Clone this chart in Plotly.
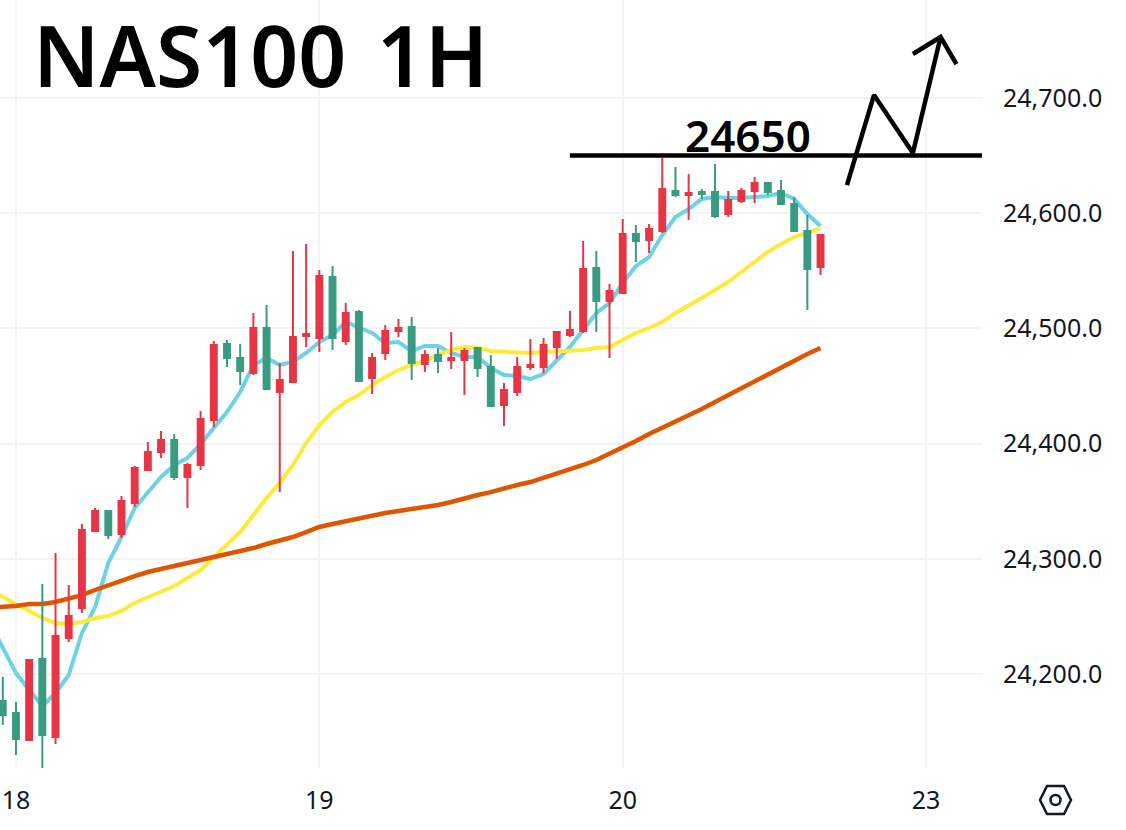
# NAS100 1H, velas con tres medias moviles
import plotly.graph_objects as go

# Datos de las velas (indice de vela en el eje x)
indice = list(range(63))
apertura = [24176.5, 24166.1, 24142.7, 24213.0, 24145.3, 24231.2, 24257.3, 24324.1, 24341.5, 24321.5,
            24348.4, 24377.0, 24392.7, 24403.1, 24371.0, 24381.4, 24420.4, 24486.4, 24474.3, 24461.2,
            24500.3, 24444.7, 24453.4, 24493.4, 24491.6, 24544.6, 24489.0, 24514.2, 24456.9, 24478.6,
            24497.7, 24501.2, 24469.0, 24476.9, 24472.5, 24472.5, 24482.9, 24466.4, 24433.5, 24444.7,
            24466.4, 24466.4, 24483.8, 24494.2, 24497.7, 24552.4, 24523.7, 24530.7, 24581.9, 24576.7,
            24584.5, 24619.2, 24615.7, 24618.3, 24618.3, 24599.2, 24610.5, 24619.2, 24626.2, 24619.2,
            24607.9, 24584.5, 24553.2]
maximo = [24197.4, 24175.7, 24213.0, 24278.1, 24305.0, 24277.2, 24330.2, 24344.1, 24341.5, 24354.5,
          24380.5, 24401.3, 24410.9, 24408.3, 24383.1, 24428.3, 24489.0, 24489.9, 24486.4, 24513.3,
          24520.3, 24469.9, 24567.1, 24573.2, 24550.6, 24554.1, 24522.0, 24515.9, 24478.6, 24502.9,
          24508.1, 24509.8, 24481.2, 24482.9, 24496.8, 24482.9, 24483.8, 24476.9, 24452.6, 24475.1,
          24490.7, 24491.6, 24496.8, 24515.1, 24575.8, 24567.1, 24538.5, 24594.9, 24589.7, 24590.6,
          24647.9, 24640.0, 24634.0, 24620.9, 24642.6, 24619.2, 24621.8, 24631.4, 24626.2, 24628.8,
          24614.0, 24598.4, 24581.9]
minimo = [24155.7, 24129.7, 24142.7, 24118.4, 24139.2, 24227.7, 24252.9, 24324.1, 24317.1, 24318.0,
          24344.9, 24377.0, 24387.5, 24368.4, 24344.1, 24377.0, 24414.4, 24466.4, 24450.8, 24459.5,
          24447.3, 24357.9, 24452.6, 24483.8, 24479.5, 24481.2, 24485.5, 24454.3, 24443.0, 24472.5,
          24492.5, 24455.2, 24462.1, 24461.2, 24464.7, 24442.1, 24457.8, 24432.6, 24415.2, 24441.3,
          24463.8, 24461.2, 24473.4, 24492.5, 24496.0, 24496.8, 24474.3, 24530.7, 24557.6, 24565.4,
          24582.8, 24614.0, 24594.0, 24612.3, 24595.8, 24596.6, 24608.8, 24608.8, 24615.7, 24607.9,
          24583.6, 24515.9, 24546.3]
cierre = [24164.4, 24143.5, 24212.1, 24147.0, 24233.0, 24250.3, 24325.0, 24341.5, 24320.6, 24350.1,
          24378.8, 24392.7, 24403.1, 24371.0, 24381.4, 24421.3, 24485.5, 24474.3, 24463.0, 24500.3,
          24447.3, 24455.2, 24492.5, 24495.1, 24545.4, 24491.6, 24513.3, 24454.3, 24474.3, 24497.7,
          24500.3, 24469.9, 24476.9, 24471.7, 24474.3, 24480.3, 24465.6, 24432.6, 24446.5, 24466.4,
          24468.2, 24485.5, 24496.8, 24498.6, 24551.5, 24523.7, 24532.4, 24581.9, 24575.8, 24586.2,
          24620.9, 24615.7, 24617.5, 24616.6, 24597.5, 24611.4, 24619.2, 24626.2, 24618.3, 24607.9,
          24584.5, 24551.5, 24581.0]

# Medias moviles (una vela mas a la izquierda, fuera del cuadro)
indice_medias = list(range(-1, 63))
media_azul = [24245.1, 24222.5, 24200.8, 24186.1, 24172.2, 24183.5, 24199.1, 24235.6, 24258.1, 24296.3, 24318.9,
              24344.1, 24357.9, 24371.0, 24381.4, 24387.5, 24399.6, 24413.5, 24427.4, 24444.7, 24468.2,
              24474.3, 24468.2, 24470.8, 24478.6, 24488.1, 24494.2, 24505.5, 24501.2, 24496.0, 24487.3,
              24488.1, 24480.3, 24484.7, 24484.7, 24478.6, 24475.1, 24475.1, 24465.6, 24459.5, 24458.6,
              24456.0, 24460.4, 24472.5, 24483.8, 24498.6, 24513.3, 24522.0, 24539.4, 24554.1, 24561.9,
              24581.0, 24596.6, 24603.6, 24612.3, 24614.0, 24613.1, 24613.1, 24614.0, 24614.9, 24617.5,
              24612.3, 24599.2, 24588.8]
media_amarilla = [24272.9, 24266.8, 24261.6, 24255.5, 24248.6, 24244.2, 24243.4, 24245.1, 24248.6, 24250.3, 24254.7,
                  24261.6, 24266.8, 24271.1, 24276.4, 24283.3, 24290.2, 24301.5, 24311.9, 24323.2, 24338.0,
                  24352.7, 24365.8, 24381.4, 24400.5, 24416.1, 24427.4, 24436.1, 24442.1, 24450.8, 24457.8,
                  24463.8, 24468.2, 24471.7, 24476.9, 24481.2, 24483.8, 24482.9, 24480.3, 24479.5, 24478.6,
                  24478.6, 24479.5, 24480.3, 24481.2, 24481.2, 24482.9, 24483.8, 24489.9, 24496.0, 24500.3,
                  24505.5, 24513.3, 24519.4, 24526.3, 24533.3, 24540.2, 24548.9, 24557.6, 24566.3, 24573.2,
                  24579.3, 24582.8, 24587.1]
media_naranja = [24257.7, 24258.1, 24259.0, 24260.7, 24260.7, 24262.5, 24265.1, 24268.5, 24272.9, 24277.2, 24280.7,
                 24285.0, 24288.5, 24291.1, 24292.8, 24295.4, 24298.0, 24301.5, 24304.1, 24306.7, 24309.3,
                 24312.8, 24315.4, 24318.9, 24323.2, 24327.6, 24330.2, 24332.8, 24334.5, 24337.1, 24339.7,
                 24341.5, 24343.2, 24344.9, 24346.7, 24349.3, 24352.7, 24355.3, 24357.9, 24361.4, 24364.0,
                 24366.6, 24370.1, 24373.6, 24377.0, 24381.4, 24385.7, 24390.9, 24396.1, 24402.2, 24408.3,
                 24413.5, 24418.7, 24423.9, 24430.0, 24436.1, 24442.1, 24448.2, 24453.4, 24460.4, 24466.4,
                 24472.5, 24477.7, 24482.9]

# Ejes
ticks_x = [1, 24, 47, 70]
etiquetas_x = ['18', '19', '20', '23']
ticks_y = [24200, 24300, 24400, 24500, 24600, 24700]
rango_x = [-0.21, 74.24]
rango_y = [24118.4, 24785.0]

# Dibujo a mano: nivel y flecha
nivel = 24650
nivel_x = [43.0, 74.24]
flecha_x = [64.0, 66.05, 69.0, 71.1]
flecha_y = [24624.4, 24702.5, 24652.2, 24752.9]
punta_x = [69.0, 71.1, 72.3]
punta_y = [24738.1, 24752.9, 24729.4]

ANCHO, ALTO = 1126, 830
PLOT_W, PLOT_H = 982, 768


# Pasar pixeles de la ventana a coordenadas paper
def px(x):
    return x / PLOT_W


def py(y):
    return 1 - y / PLOT_H


fig = go.Figure()

# Las medias van en el eje base para quedar debajo de las velas
fig.add_trace(go.Scatter(x=indice_medias, y=media_azul, mode='lines', line=dict(color='#6dd2e4', width=4)))
fig.add_trace(go.Scatter(x=indice_medias, y=media_amarilla, mode='lines', line=dict(color='#fdea3b', width=4)))
fig.add_trace(go.Scatter(x=indice_medias, y=media_naranja, mode='lines', line=dict(color='#df5600', width=4.5)))

fig.add_trace(go.Candlestick(
    x=indice, open=apertura, high=maximo, low=minimo, close=cierre,
    xaxis='x2', yaxis='y2', whiskerwidth=0,
    increasing=dict(line=dict(color='#e63645', width=2), fillcolor='#e63645'),
    decreasing=dict(line=dict(color='#389b82', width=2), fillcolor='#389b82'),
))

linea_negra = dict(color='black', width=4.5)
fig.add_trace(go.Scatter(x=nivel_x, y=[nivel, nivel], mode='lines', xaxis='x2', yaxis='y2',
                         line=linea_negra))
fig.add_trace(go.Scatter(x=flecha_x, y=flecha_y, mode='lines', xaxis='x2', yaxis='y2',
                         line=linea_negra))
fig.add_trace(go.Scatter(x=punta_x, y=punta_y, mode='lines', xaxis='x2', yaxis='y2',
                         line=linea_negra))

fuente_ejes = dict(family='Noto Sans', size=25, color='#131722')
fig.update_layout(
    width=ANCHO, height=ALTO,
    margin=dict(l=0, r=ANCHO - PLOT_W, t=0, b=ALTO - PLOT_H),
    paper_bgcolor='white', plot_bgcolor='white',
    showlegend=False,
    boxgap=0.36,
    xaxis=dict(range=rango_x, tickvals=ticks_x, ticktext=etiquetas_x, showgrid=True, gridcolor='#f3f3f3',
               gridwidth=2, zeroline=False, showline=False, ticks='', tickfont=fuente_ejes,
               ticklabelstandoff=15, rangeslider=dict(visible=False)),
    yaxis=dict(range=rango_y, side='right', tickvals=ticks_y, tickformat=',.1f', showgrid=True,
               gridcolor='#f3f3f3', gridwidth=2, zeroline=False, showline=False, ticks='',
               tickfont=fuente_ejes, ticklabelstandoff=20),
    xaxis2=dict(range=rango_x, overlaying='x', visible=False, rangeslider=dict(visible=False)),
    yaxis2=dict(range=rango_y, overlaying='y', visible=False),
    annotations=[
        dict(text='NAS100 \u200a1H', xref='paper', yref='paper', x=px(31), y=py(114), xanchor='left',
             yanchor='bottom', showarrow=False,
             font=dict(family='Noto Sans', size=84, color='black', weight=600)),
        dict(text='24650', xref='x', yref='y', x=56.5, y=nivel, yshift=-11, xanchor='center', yanchor='bottom',
             showarrow=False, font=dict(family='Noto Sans', size=44, color='black', weight=600)),
    ],
    shapes=[
        # Icono de ajustes abajo a la derecha
        dict(type='path', xref='paper', yref='paper', line=dict(color='#131722', width=2.5),
             path='M {} {} L {} {} L {} {} L {} {} L {} {} L {} {} Z'.format(
                 px(1040), py(800), px(1047), py(786), px(1064), py(786),
                 px(1071), py(800), px(1064), py(814), px(1047), py(814))),
        dict(type='circle', xref='paper', yref='paper', line=dict(color='#131722', width=2.5),
             x0=px(1050.5), x1=px(1060.5), y0=py(805), y1=py(795)),
    ],
)

fig.write_html('out.html', config=dict(displayModeBar=False),
               post_script="document.body.style.margin='0';")
